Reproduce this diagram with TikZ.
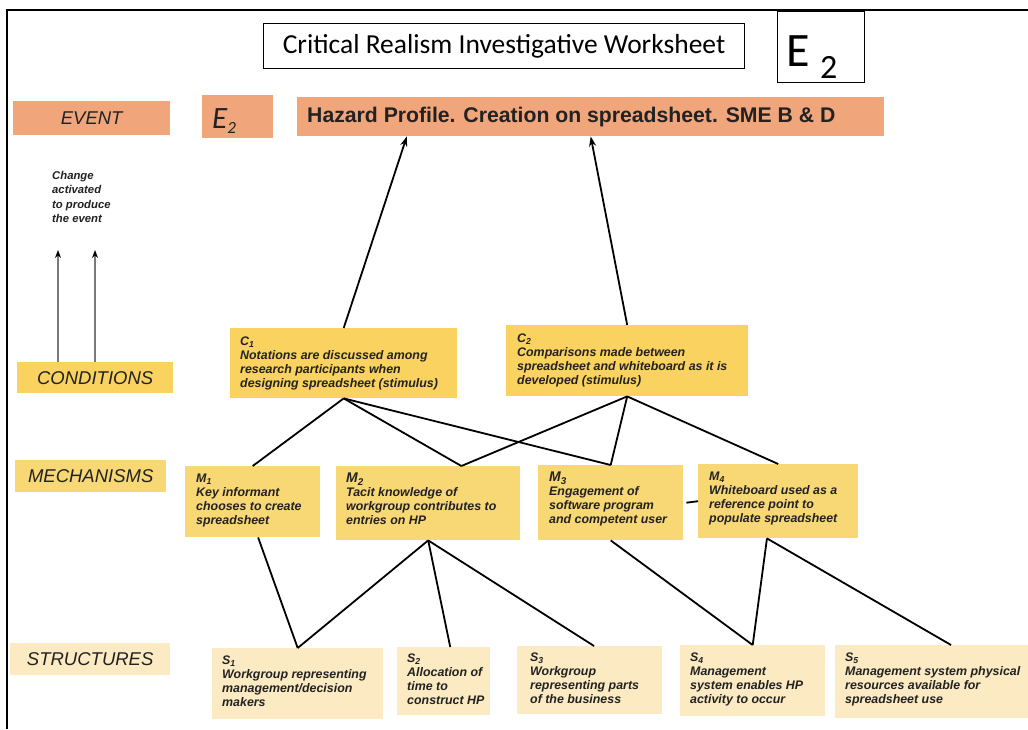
\documentclass[tikz,border=0pt]{standalone}
\usepackage{fontspec}
\setmainfont{Liberation Sans}
\newfontfamily\calfont{Carlito}
\usetikzlibrary{calc,arrows.meta}
\definecolor{evtorange}{HTML}{F0A57A}
\definecolor{condyellow}{HTML}{F9D25F}
\definecolor{mechyellow}{HTML}{F8D775}
\definecolor{strpale}{HTML}{FBEAC2}
\definecolor{ink}{HTML}{222222}
\definecolor{sidegray}{HTML}{7A7A7A}
\begin{document}
\begin{tikzpicture}[x=1pt,y=-1pt,
  box/.style={draw=none, inner sep=0pt, anchor=north west, fill=#1},
  level/.style={inner sep=0pt, font=\fontsize{18.5}{20}\selectfont\itshape, text=ink},
  txt/.style={anchor=north west, inner sep=0pt, align=left,
    font=\fontsize{12.4}{14}\selectfont\bfseries\itshape, text=ink},
  conn/.style={line width=1.8pt, black},
  up/.style={conn, -{Stealth[length=10pt,width=7pt]}},
  side/.style={line width=1.2pt, sidegray, -{Stealth[length=8pt,width=6pt,color=black]}}
]
\useasboundingbox (0,0) rectangle (1028,729);
\fill[white] (0,0) rectangle (1028,729);

% worksheet frame (top and left edges)
\draw[line width=2pt] (6,10) -- (1028,10);
\draw[line width=2pt] (7,10) -- (7,729);

% heading
\node[draw, line width=1pt, minimum width=481pt, minimum height=45pt, anchor=north west,
  font=\calfont\fontsize{27.5}{27.5}\selectfont] (title) at (263,23) {Critical Realism Investigative Worksheet};
\node[draw, line width=1pt, minimum width=87pt, minimum height=71pt, anchor=north west] (tag) at (777,11) {};
\node[inner sep=0pt, font=\calfont\fontsize{48}{48}\selectfont, anchor=base west] (tagE) at (786,66) {E};
\node[inner sep=0pt, font=\calfont\fontsize{34}{34}\selectfont, anchor=base west] (tag2) at (820,78) {2};

% event row
\node[box=evtorange, minimum width=157pt, minimum height=34pt] (event) at (13,101) {};
\node[level] at (event.center) {EVENT};
\node[box=evtorange, minimum width=71pt, minimum height=43pt] (ebox) at (202,95) {};
\node[inner sep=0pt, font=\calfont\fontsize{31}{31}\selectfont\itshape, text=ink, anchor=base west]
  at (212,128) {E\raisebox{-5pt}{\fontsize{17}{17}\selectfont 2}};
\node[box=evtorange, minimum width=587pt, minimum height=39pt] (haz) at (297,97) {};
\node[inner sep=0pt, anchor=west, font=\fontsize{21.2}{22}\selectfont\bfseries, text=ink]
  at ($(haz.west)+(10,0)$) {Hazard Profile. Creation on spreadsheet. SME B \& D};

% side note
\node[txt, font=\fontsize{11.3}{14.5}\selectfont\bfseries\itshape] (note) at (52,171)
  {Change\\activated\\to produce\\the event};

% level labels
\node[box=condyellow, minimum width=156pt, minimum height=31pt] (cond) at (17,362) {};
\node[level] at (cond.center) {CONDITIONS};
\node[box=mechyellow, minimum width=151pt, minimum height=32pt] (mech) at (15,460) {};
\node[level] at (mech.center) {MECHANISMS};
\node[box=strpale, minimum width=160pt, minimum height=32pt] (struct) at (10,643) {};
\node[level] at (struct.center) {STRUCTURES};

% conditions
\node[box=condyellow, minimum width=227pt, minimum height=70pt] (c1) at (230,328) {};
\node[txt] at ($(c1.north west)+(10,9)$)
  {C\textsubscript{1}\\Notations are discussed among\\research participants when\\designing spreadsheet (stimulus)};
\node[box=condyellow, minimum width=242pt, minimum height=71pt] (c2) at (506,325) {};
\node[txt] at ($(c2.north west)+(11,9)$)
  {C\textsubscript{2}\\Comparisons made between\\spreadsheet and whiteboard as it is\\developed (stimulus)};

% mechanisms
\node[box=mechyellow, minimum width=135pt, minimum height=71pt] (m1) at (185,466) {};
\node[txt] at ($(m1.north west)+(11,8)$)
  {M\textsubscript{1}\\Key informant\\chooses to create\\spreadsheet};
\node[box=mechyellow, minimum width=184pt, minimum height=74pt] (m2) at (336,466) {};
\node[txt] at ($(m2.north west)+(10,7)$)
  {{\fontsize{14}{14}\selectfont M\textsubscript{2}}\\Tacit knowledge of\\workgroup contributes to\\entries on HP};
\node[box=mechyellow, minimum width=145pt, minimum height=75pt] (m3) at (538,465) {};
\node[txt] at ($(m3.north west)+(11,7)$)
  {{\fontsize{14}{14}\selectfont M\textsubscript{3}}\\Engagement of\\software program\\and competent user};
\node[box=mechyellow, minimum width=160pt, minimum height=74pt] (m4) at (698,464) {};
\node[txt] at ($(m4.north west)+(11,8)$)
  {M\textsubscript{4}\\Whiteboard used as a\\reference point to\\populate spreadsheet};

% structures
\node[box=strpale, minimum width=171pt, minimum height=71pt] (s1) at (212,648) {};
\node[txt] at ($(s1.north west)+(10,8)$)
  {S\textsubscript{1}\\Workgroup representing\\management/decision\\makers};
\node[box=strpale, minimum width=93pt, minimum height=68pt] (s2) at (397,647) {};
\node[txt] at ($(s2.north west)+(10,7)$)
  {S\textsubscript{2}\\Allocation of\\time to\\construct HP};
\node[box=strpale, minimum width=145pt, minimum height=68pt] (s3) at (517,646) {};
\node[txt] at ($(s3.north west)+(13,7)$)
  {S\textsubscript{3}\\Workgroup\\representing parts\\of the business};
\node[box=strpale, minimum width=145pt, minimum height=71pt] (s4) at (680,645) {};
\node[txt] at ($(s4.north west)+(10,8)$)
  {S\textsubscript{4}\\Management\\system enables HP\\activity to occur};
\node[box=strpale, minimum width=193pt, minimum height=73pt] (s5) at (835,645) {};
\node[txt] at ($(s5.north west)+(10,8)$)
  {S\textsubscript{5}\\Management system physical\\resources available for\\spreadsheet use};

% side arrows rising from the conditions label
\coordinate (sa1) at ($(cond.north west)+(41,-112)$);
\coordinate (sa2) at ($(cond.north west)+(78,-112)$);
\draw[side] ($(cond.north west)+(41,0)$) -- (sa1);
\draw[side] ($(cond.north west)+(78,0)$) -- (sa2);

% conditions to event
\draw[up] (c1.north) -- ($(haz.south west)!0.187!(haz.south east)$);
\draw[up] (c2.north) -- (haz.south);

% conditions to mechanisms
\draw[conn] (c1.south) -- (m1.north);
\draw[conn] (c1.south) -- ($(m2.north west)!0.68!(m2.north east)$);
\draw[conn] (c1.south) -- (m3.north);
\draw[conn] (c2.south) -- ($(m2.north west)!0.68!(m2.north east)$);
\draw[conn] (c2.south) -- (m3.north);
\draw[conn] (c2.south) -- (m4.north);
\draw[conn] ($(m3.east)+(3,0)$) -- (m4.west);

% mechanisms to structures
\draw[conn] ($(m1.south west)!0.54!(m1.south east)$) -- (s1.north);
\draw[conn] (m2.south) -- (s1.north);
\draw[conn] (m2.south) -- ($(s2.north west)!0.57!(s2.north east)$);
\draw[conn] (m2.south) -- ($(s3.north west)!0.53!(s3.north east)$);
\draw[conn] (m3.south) -- (s4.north);
\draw[conn] ($(m4.south west)!0.43!(m4.south east)$) -- (s4.north);
\draw[conn] ($(m4.south west)!0.43!(m4.south east)$) -- ($(s5.north west)!0.6!(s5.north east)$);
\end{tikzpicture}
\end{document}
